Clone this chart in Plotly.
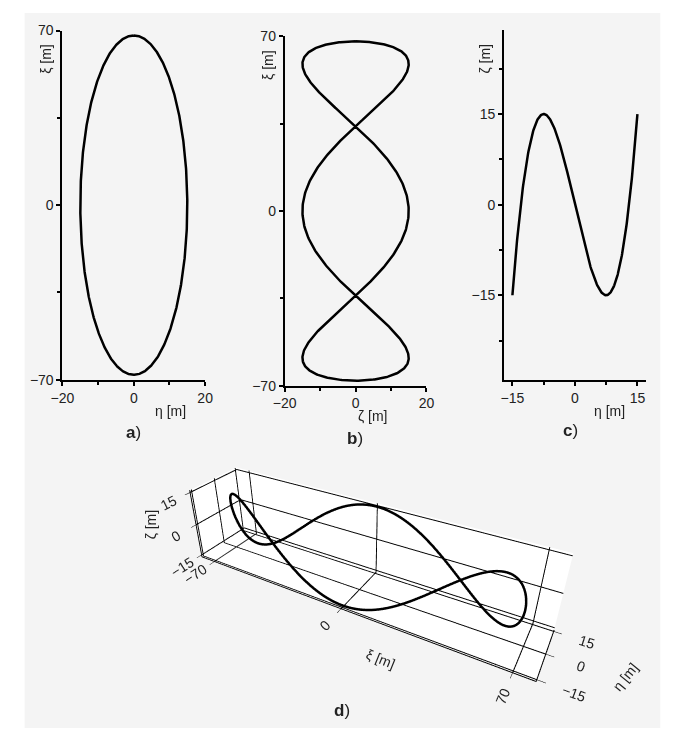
import numpy as np
import plotly.graph_objects as go

# Trajectory parameters (amplitudes in metres)
XI_AMP = 68.0     # longitudinal amplitude, xi
ETA_AMP = 15.0    # lateral amplitude, eta
ZETA_AMP = 15.0   # vertical amplitude, zeta
ZETA_HARMONIC = 3 # zeta oscillates three times per revolution

# phase samples along one closed revolution
phase = np.linspace(0.0, 2.0 * np.pi, 721)
xi = XI_AMP * np.cos(phase)
eta = ETA_AMP * np.sin(phase)
zeta = -ZETA_AMP * np.sin(ZETA_HARMONIC * phase)

# open branch used for the zeta-eta view (eta from -15 to 15)
half = np.linspace(-np.pi / 2, np.pi / 2, 361)
eta_c = ETA_AMP * np.sin(half)
zeta_c = -ZETA_AMP * np.sin(ZETA_HARMONIC * half)

# axis ticks
xi_ticks = [-70, 0, 70]
eta_ticks_2d = [-20, 0, 20]
eta_ticks_c = [-15, 0, 15]
zeta_ticks_c = [-15, 0, 15]
eta_ticks_3d = [-15, 0, 15]
zeta_ticks_3d = [-15, 0, 15]

W, H = 679, 740
FONT = "Liberation Sans, Arial, sans-serif"
TXT = "#222222"


def fx(px):
    return px / W


def fy(py):
    return 1 - py / H


fig = go.Figure()

line2d = dict(color="black", width=2.5)
fig.add_trace(go.Scatter(x=eta, y=xi, mode="lines", line=line2d,
                         xaxis="x", yaxis="y", hoverinfo="skip"))
fig.add_trace(go.Scatter(x=zeta, y=xi, mode="lines", line=line2d,
                         xaxis="x2", yaxis="y2", hoverinfo="skip"))
fig.add_trace(go.Scatter(x=eta_c, y=zeta_c, mode="lines", line=line2d,
                         xaxis="x3", yaxis="y3", hoverinfo="skip"))
fig.add_trace(go.Scatter3d(x=xi, y=eta, z=zeta, mode="lines",
                           line=dict(color="black", width=5),
                           hoverinfo="skip"))


def ax2d(domain, rng, tickvals, minor_dtick, anchor):
    return dict(
        domain=domain, range=rng, tickvals=tickvals, anchor=anchor,
        showline=True, linecolor="black", linewidth=2,
        ticks="outside", ticklen=4, tickwidth=1.5, tickcolor="black",
        minor=dict(dtick=minor_dtick, tick0=0, ticks="outside", ticklen=3,
                   tickwidth=1.5, tickcolor="black", showgrid=False),
        showgrid=False, zeroline=False, fixedrange=True,
        tickfont=dict(family=FONT, size=14, color=TXT),
    )


fig.update_layout(
    xaxis=ax2d([fx(52), fx(199)], [-20, 20], eta_ticks_2d, 10, "y"),
    yaxis=ax2d([fy(380), fy(23)], [-70, 70], xi_ticks, 35, "x"),
    xaxis2=ax2d([fx(281), fx(427)], [-20, 20], eta_ticks_2d, 10, "y2"),
    yaxis2=ax2d([fy(386), fy(29)], [-70, 70], xi_ticks, 35, "x2"),
    xaxis3=ax2d([fx(507), fx(653)], [-17, 17], eta_ticks_c, 7.5, "y3"),
    yaxis3=ax2d([fy(380), fy(22)], [-29, 29], zeta_ticks_c, 7.5, "x3"),
)

grid3d = dict(
    showbackground=True, backgroundcolor="white",
    gridcolor="black", gridwidth=2,
    showline=True, linecolor="black", linewidth=2,
    zeroline=False, showspikes=False,
    ticks="outside", tickcolor="black", ticklen=6,
    tickfont=dict(family=FONT, size=13, color=TXT),
    title=dict(text=""),
)

fig.update_layout(
    scene=dict(
        domain=dict(x=[fx(48), fx(667)], y=[0.0, fy(320)]),
        xaxis=dict(range=[-78, 78], tickvals=xi_ticks, **grid3d),
        yaxis=dict(range=[-16, 16], tickvals=eta_ticks_3d, **grid3d),
        zaxis=dict(range=[-16, 16], tickvals=zeta_ticks_3d, **grid3d),
        aspectmode="manual",
        aspectratio=dict(x=2.85, y=0.55, z=0.64),
        camera=dict(eye=dict(x=1.58, y=-2.74, z=2.03),
                    center=dict(x=0, y=0, z=0.25),
                    up=dict(x=0, y=0, z=1)),
        bgcolor="rgba(0,0,0,0)",
    )
)

annots = []


def note(text, x, y, size=14, angle=0, **kw):
    annots.append(dict(text=text, x=fx(x), y=fy(y), xref="paper", yref="paper",
                       showarrow=False, textangle=angle,
                       font=dict(family=FONT, size=size, color=TXT),
                       xanchor="center", yanchor="middle", **kw))


# axis titles of the 2D views
note("ξ [m]", 35, 52, angle=-90)
note("η [m]", 163, 412)
note("ξ [m]", 264, 58, angle=-90)
note("ζ [m]", 372, 417)
note("ζ [m]", 487, 52, angle=-90)
note("η [m]", 616, 412)
# axis titles of the 3D view
note("ζ [m]", 143, 528, angle=-90)
note("ξ [m]", 380, 665, angle=22)
note("η [m]", 632, 684, angle=-51)
# panel letters
note("<b>a</b>)", 125, 434, size=17)
note("<b>b</b>)", 353, 440, size=17)
note("<b>c</b>)", 575, 432, size=17)
note("<b>d</b>)", 340, 718, size=17)

fig.update_layout(
    width=W, height=H,
    margin=dict(l=0, r=0, t=0, b=0),
    paper_bgcolor="white", plot_bgcolor="rgba(0,0,0,0)",
    showlegend=False,
    annotations=annots,
    shapes=[dict(type="rect", xref="paper", yref="paper",
                 x0=fx(13), x1=fx(668), y0=fy(736), y1=fy(5),
                 fillcolor="#f4f4f4", line=dict(width=0), layer="below")],
)

fig.write_html("out.html")
